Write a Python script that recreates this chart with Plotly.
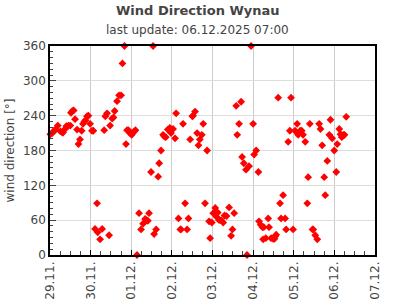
import pandas as pd
import plotly.graph_objects as go

# hours after 29.11.2025 00:00
hours = [0.2, 1.4, 2.6, 3.4, 4.6, 6.1, 7.3, 7.7, 8.9, 9.7, 10.9, 12.0, 12.4, 13.2, 14.0, 14.8,
         16.0, 16.8, 17.7, 18.7, 19.5, 20.3, 21.0, 21.9, 22.7, 23.7, 24.8, 25.6, 26.6, 27.8,
         28.2, 29.6, 30.8, 32.0, 32.7, 33.7, 34.9, 35.5, 36.7, 37.5, 38.2,
         39.6, 40.8, 42.0, 42.8, 44.0, 44.9, 45.5, 46.3, 46.9, 47.5, 48.3, 48.9, 49.7, 50.5,
         51.4, 52.6, 53.8, 55.0, 56.2, 57.0, 57.8, 58.5, 59.7, 60.9, 61.5, 62.7, 63.9, 64.5,
         65.6, 66.8, 67.6, 68.4, 69.6, 70.8, 71.5, 72.7, 73.9, 74.5,
         75.9, 77.0, 77.4, 78.6, 79.8, 81.0, 81.8, 82.8, 84.1, 84.5, 85.7, 86.9, 87.7, 88.5,
         89.7, 90.5, 91.6, 92.8, 94.0, 94.6, 95.6, 96.4, 97.6, 98.3, 99.1, 99.9, 101.1, 102.3,
         103.1, 104.3, 105.8, 107.0, 107.8, 108.8, 110.0, 110.6, 111.7, 112.9, 113.5, 114.5,
         115.8, 116.4, 117.6, 118.8, 120.0, 120.6, 121.8, 123.1, 123.5, 124.5, 125.5, 125.9,
         126.3, 127.5, 128.9, 129.4, 130.6, 131.8, 132.6, 133.0, 133.6, 134.8, 135.9, 136.5,
         137.7, 138.9, 139.5, 140.7, 141.7, 142.4, 143.6, 144.8, 146.0, 146.6, 147.8, 148.7,
         149.5, 150.8, 152.0, 152.5, 153.5, 155.1, 155.5, 156.7, 157.9, 159.0, 159.8, 160.8,
         162.0, 162.6, 163.8, 165.0, 165.7, 166.7, 167.9, 169.1, 169.7, 170.9, 171.6, 172.4,
         173.2, 174.0, 175.0]

direction = [208, 210, 215, 216, 223, 213, 211, 211, 217, 222, 223, 223, 245, 248, 249, 234,
             216, 191, 199, 214, 226, 230, 232, 239, 240, 226, 214, 214, 45, 89,
             39, 27, 45, 215, 239, 244, 34, 223, 235, 237, 248,
             265, 275, 275, 330, 360, 191, 215, 215, 212, 209, 207, 210, 213, 215,
             0, 72, 44, 54, 62, 60, 59, 72, 143, 360, 36, 44, 135, 158,
             180, 207, 204, 203, 216, 219, 210, 217, 201, 244,
             63, 44, 44, 226, 89, 44, 63, 199, 239, 240, 247, 210, 189, 199,
             207, 226, 89, 180, 58, 29, 56, 72, 81, 66, 73, 60, 60, 56,
             68, 67, 82, 33, 44, 72, 257, 207, 226, 264, 169, 158,
             147, 0, 153, 360, 226, 173, 180, 143, 58, 52, 48, 27,
             48, 29, 63, 48, 29, 28, 28, 32, 35, 271, 89, 63,
             103, 63, 44, 195, 214, 271, 44, 214, 226, 207, 214, 214,
             207, 195, 89, 134, 226, 44, 44, 34, 27, 226, 217, 189,
             134, 103, 162, 207, 233, 201, 180, 143, 191, 217, 208, 203,
             207, 207, 238]

y_ticks = [0, 60, 120, 180, 240, 300, 360]

start = pd.Timestamp("2025-11-29 00:00")
times = [start + pd.Timedelta(hours=h) for h in hours]

fig = go.Figure()
fig.add_trace(go.Scatter(
    x=times, y=direction, mode="markers",
    marker=dict(symbol="diamond", size=6, color="#ff0000", line=dict(width=0)),
    cliponaxis=False, showlegend=False,
))

font_color = "#444444"
fig.update_layout(
    width=395, height=300,
    margin=dict(l=50, r=20, t=46, b=45, autoexpand=False),
    paper_bgcolor="white", plot_bgcolor="white",
    font=dict(family="DejaVu Sans", size=12, color=font_color),
    annotations=[
        dict(text="<b>Wind Direction Wynau</b>", xref="paper", yref="paper",
             x=(197.5 - 50) / 325, y=(255 - 10.5) / 209, xanchor="center", yanchor="middle",
             showarrow=False, font=dict(size=13, color=font_color)),
        dict(text="last update: 06.12.2025 07:00", xref="paper", yref="paper",
             x=(197.5 - 50) / 325, y=(255 - 30) / 209, xanchor="center", yanchor="middle",
             showarrow=False, font=dict(size=12, color=font_color)),
    ],
)

fig.update_xaxes(
    range=["2025-11-29 00:00", "2025-12-07 00:00"], automargin=False,
    dtick=86400000, tick0="2025-11-29", tickformat="%d.%m.", tickangle=-90,
    showgrid=True, gridcolor="#cccccc", gridwidth=1,
    showline=True, linecolor="black", linewidth=1.5, mirror=True,
    ticks="inside", ticklen=5, tickcolor="black",
    minor=dict(dtick=6 * 3600000, ticks="inside", ticklen=4, tickcolor="#444444", showgrid=False),
    tickfont=dict(size=12, color=font_color), zeroline=False,
)
fig.update_yaxes(
    range=[0, 360], tickvals=y_ticks, automargin=False,
    title=dict(text="wind direction [°]", font=dict(size=12, color=font_color), standoff=6),
    showgrid=True, gridcolor="#dddddd", gridwidth=1,
    showline=True, linecolor="black", linewidth=1.5, mirror=True,
    ticks="inside", ticklen=6, tickcolor="#444444",
    minor=dict(dtick=10, ticks="inside", ticklen=3, tickcolor="#444444", showgrid=False),
    tickfont=dict(size=12, color=font_color), zeroline=False,
)

fig.write_html("out.html")
